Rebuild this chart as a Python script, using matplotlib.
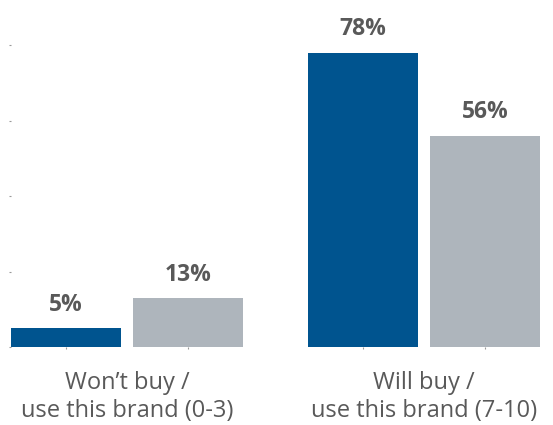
import matplotlib
matplotlib.use("Agg")
import matplotlib.pyplot as plt
import numpy as np

plt.rcParams['font.family'] = ['Open Sans', 'DejaVu Sans']

# data
groups = ["Won\u2019t buy /\nuse this brand (0-3)", "Will buy /\nuse this brand (7-10)"]
serie_bleue = [5, 78]
serie_grise = [13, 56]

bleu = "#00548F"
gris = "#AEB5BC"
texte = "#595959"

fig = plt.figure(figsize=(5.53, 4.25), dpi=100)
ax = fig.add_axes([11 / 553, 78 / 425, 529 / 553, 302 / 425])

x = np.arange(len(groups))
largeur = 0.37
decal = 0.2054

b1 = ax.bar(x - decal, serie_bleue, largeur, color=bleu)
b2 = ax.bar(x + decal, serie_grise, largeur, color=gris)

for barres in (b1, b2):
    for b in barres:
        h = b.get_height()
        ax.annotate("%d%%" % h, (b.get_x() + b.get_width() / 2, h),
                    xytext=(0, 8), textcoords="offset points",
                    ha="center", va="bottom", fontsize=16.5, fontweight="bold",
                    color=texte, annotation_clip=False)

ax.set_xlim(-0.3906, 1.3906)
ax.set_ylim(0, 80)

for s in ax.spines.values():
    s.set_visible(False)

ax.set_yticks([0, 20, 40, 60, 80])
ax.set_yticklabels([])
ax.tick_params(axis="y", length=1.5, width=0.8, color="#999999")

ax.set_xticks(x)
ax.set_xticklabels(groups, fontsize=17, color=texte, linespacing=1.25)
ax.set_xticks(np.concatenate([x - decal, x + decal]), minor=True)
ax.tick_params(axis="x", which="major", length=0, pad=17)
ax.tick_params(axis="x", which="minor", length=1.5, width=0.8, color="#999999")

fig.savefig("out.png", dpi=100)
